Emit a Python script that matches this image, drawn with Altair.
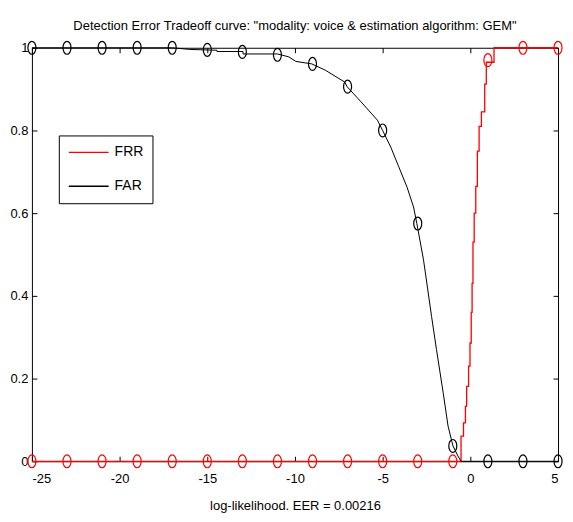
import altair as alt
import pandas as pd

# ---- data ----
frr_x = [-25, -0.53, -0.39, -0.28, -0.21, -0.10, -0.02, 0.05, 0.10, 0.15, 0.22,
         0.31, 0.40, 0.50, 0.63, 0.82, 0.91, 1.35, 5]
frr_y = [0, 0.061, 0.093, 0.133, 0.181, 0.23, 0.286, 0.36, 0.43, 0.53, 0.60,
         0.665, 0.75, 0.81, 0.845, 0.912, 0.965, 1.0, 1.0]

far_x = [-25, -17, -16.0, -14.45, -14.45, -12.96, -12.96, -11.0, -10.35, -9.95,
         -9.04, -8.28, -7.16, -7.03, -6.23, -5.3, -5.0, -4.54, -4.08, -3.61,
         -3.24, -3.05, -2.67, -2.21, -1.93, -1.55, -1.27, -0.99, -0.71, -0.53, 5]
far_y = [1, 1, 0.996, 0.994, 0.991, 0.991, 0.985, 0.985, 0.978, 0.967,
         0.961, 0.946, 0.917, 0.906, 0.869, 0.825, 0.80, 0.76, 0.712, 0.663,
         0.615, 0.575, 0.487, 0.35, 0.27, 0.166, 0.085, 0.037, 0.013, 0, 0]

marker_x = [-25, -23, -21, -19, -17, -15, -13, -11, -9, -7, -5, -3, -1, 1, 3, 5]
frr_marker_y = [0, 0, 0, 0, 0, 0, 0, 0, 0, 0, 0, 0, 0, 0.97, 1, 1]
far_marker_y = [1, 1, 1, 1, 1, 0.995, 0.99, 0.983, 0.961, 0.906, 0.80, 0.575,
                0.037, 0, 0, 0]

series_names = ["FRR", "FAR"]
series_colors = ["#ff0000", "#000000"]
x_ticks = [-25, -20, -15, -10, -5, 0, 5]
y_ticks = [0, 0.2, 0.4, 0.6, 0.8, 1]

title_text = 'Detection Error Tradeoff curve: "modality: voice & estimation algorithm: GEM"'
x_title = "log-likelihood. EER = 0.00216"

# ---- tables ----
frr_df = pd.DataFrame({"x": frr_x, "y": frr_y, "series": "FRR",
                       "order": list(range(len(frr_x)))})
far_df = pd.DataFrame({"x": far_x, "y": far_y, "series": "FAR",
                       "order": list(range(len(far_x)))})
marker_df = pd.concat([
    pd.DataFrame({"x": marker_x, "y": frr_marker_y, "series": "FRR"}),
    pd.DataFrame({"x": marker_x, "y": far_marker_y, "series": "FAR"}),
], ignore_index=True)

FONT = "Liberation Sans"
FS = 13

xs = alt.Scale(domain=[-25, 5], nice=False, zero=False)
ys = alt.Scale(domain=[0, 1], nice=False, zero=False)
cs = alt.Scale(domain=series_names, range=series_colors)

x_bottom = alt.Axis(orient="bottom", values=x_ticks, labelExpr="'' + datum.value",
                    offset=-5, tickSize=5, domain=False, grid=False, labelPadding=11,
                    labelFontSize=FS, title=x_title, titleFontSize=FS,
                    titleFontWeight="normal", titlePadding=14)
y_left = alt.Axis(orient="left", values=y_ticks, labelExpr="'' + datum.value",
                  offset=-5, tickSize=5, domain=False, grid=False, labelPadding=4,
                  labelFontSize=FS, title=None)
x_top = alt.Axis(orient="top", values=x_ticks, offset=-5, tickSize=5,
                 domain=False, grid=False, labels=False, title=None)
y_right = alt.Axis(orient="right", values=y_ticks, offset=-5, tickSize=5,
                   domain=False, grid=False, labels=False, title=None)

legend = alt.Legend(title=None, orient="none", legendX=27, legendY=88,
                    strokeColor="black", fillColor="white", padding=9,
                    symbolType="stroke", symbolSize=1600, symbolStrokeWidth=1.3,
                    clipHeight=16, labelFontSize=14, labelOffset=5, rowPadding=18,
                    labelColor="black")

ellipse = "M0,-1A0.62,1,0,1,1,0,1A0.62,1,0,1,1,0,-1Z"

frr_line = alt.Chart(frr_df).mark_line(interpolate="step-after", strokeWidth=1.3).encode(
    x=alt.X("x:Q", scale=xs, axis=x_bottom),
    y=alt.Y("y:Q", scale=ys, axis=y_left),
    color=alt.Color("series:N", scale=cs, legend=legend),
    order="order:Q",
)

far_line = alt.Chart(far_df).mark_line(strokeWidth=1).encode(
    x=alt.X("x:Q", scale=xs, axis=x_top),
    y=alt.Y("y:Q", scale=ys, axis=y_right),
    color=alt.Color("series:N", scale=cs, legend=legend),
    order="order:Q",
)

markers = alt.Chart(marker_df).mark_point(shape=ellipse, size=169, filled=False,
                                          strokeWidth=1.2, opacity=1).encode(
    x=alt.X("x:Q", scale=xs, axis=None),
    y=alt.Y("y:Q", scale=ys, axis=None),
    stroke=alt.Stroke("series:N", scale=cs, legend=None),
)

chart = alt.layer(frr_line, far_line, markers).resolve_axis(
    x="independent", y="independent"
).properties(
    width=528, height=415,
    padding={"left": 1, "top": 11, "right": 0, "bottom": 0},
    title=alt.TitleParams(text=title_text, fontSize=FS, fontWeight="normal",
                          offset=6, anchor="middle", color="black", font=FONT),
).configure(
    font=FONT, background="white"
).configure_view(
    stroke="black", strokeWidth=1
).configure_axis(
    labelColor="black", tickColor="black", titleColor="black", labelFont=FONT,
    titleFont=FONT,
).configure_legend(labelFont=FONT)

chart.save("out.html", embed_options={"renderer": "svg", "actions": False})
